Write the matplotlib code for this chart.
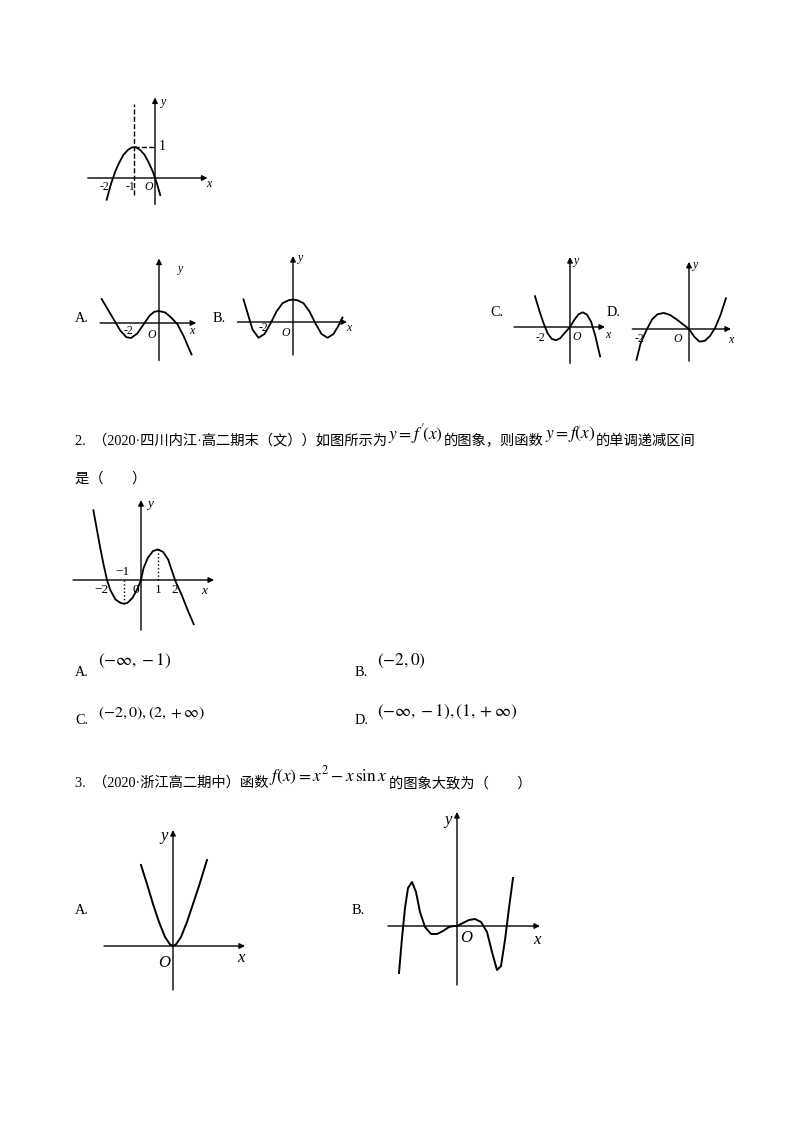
import matplotlib
matplotlib.use('Agg')
import matplotlib.pyplot as plt

plt.rcParams['mathtext.fontset'] = 'stix'
W, H = 800, 1132
CJK = ['Liberation Serif', 'Noto Sans CJK SC', 'DejaVu Sans']

# ---- curve data (math units) ----
g0_x = [-2.3, -2.1, -1.9, -1.7, -1.5, -1.3, -1.1, -0.9, -0.7, -0.5, -0.3, -0.1, 0.1, 0.25]
g0_y = [-0.7, -0.2, 0.2, 0.5, 0.75, 0.9, 0.99, 0.99, 0.9, 0.75, 0.5, 0.2, -0.2, -0.55]

a_x = [-3.7, -3.3, -2.9, -2.5, -2.1, -1.8, -1.4, -1.0, -0.6, -0.3, 0, 0.4, 0.8, 1.2, 1.6, 2.1]
a_y = [1.6, 0.9, 0.2, -0.5, -0.95, -1.0, -0.7, -0.1, 0.5, 0.75, 0.8, 0.7, 0.35, -0.1, -0.9, -2.1]

b_x = [-3.3, -3.0, -2.7, -2.3, -1.9, -1.5, -1.1, -0.7, -0.3, 0, 0.3, 0.7, 1.1, 1.5, 1.9, 2.3, 2.7, 3.0, 3.3]
b_y = [1.5, 0.5, -0.5, -1.05, -0.8, -0.1, 0.7, 1.25, 1.45, 1.5, 1.45, 1.25, 0.7, -0.1, -0.8, -1.05, -0.8, -0.3, 0.3]

c_x = [-2.5, -2.2, -1.9, -1.6, -1.3, -1.0, -0.7, -0.4, 0, 0.3, 0.6, 0.9, 1.2, 1.5, 1.8, 2.15]
c_y = [2.2, 1.2, 0.3, -0.45, -0.85, -0.95, -0.8, -0.45, 0, 0.5, 0.9, 1.05, 0.9, 0.4, -0.6, -2.1]

d_x = [-2.5, -2.3, -2.0, -1.75, -1.5, -1.2, -0.9, -0.6, -0.3, 0, 0.25, 0.5, 0.75, 1.0, 1.25, 1.5, 1.76]
d_y = [-2.2, -1.0, 0, 0.7, 1.05, 1.15, 1.0, 0.7, 0.35, 0, -0.55, -0.9, -0.85, -0.5, 0.1, 1.0, 2.2]

g2_x = [-2.8, -2.6, -2.4, -2.2, -2.0, -1.8, -1.5, -1.2, -1.0, -0.8, -0.5, -0.2, 0, 0.15, 0.4, 0.7,
        1.0, 1.3, 1.6, 2.0, 2.4, 2.8, 3.1]
g2_y = [4.1, 3.0, 1.9, 0.9, 0, -0.6, -1.15, -1.35, -1.4, -1.35, -1.05, -0.5, 0, 0.7, 1.3, 1.7,
        1.8, 1.65, 1.2, 0, -0.9, -1.9, -2.6]

g3a_x = [-1.6, -1.3, -1.0, -0.7, -0.4, -0.15, 0, 0.15, 0.4, 0.7, 1.0, 1.3, 1.7]
g3a_y = [4.05, 3.1, 2.1, 1.2, 0.45, 0.08, 0, 0.08, 0.45, 1.2, 2.1, 3.0, 4.3]

g3b_x = [-2.9, -2.75, -2.6, -2.45, -2.25, -2.05, -1.85, -1.6, -1.3, -1.0, -0.7, -0.4, -0.15, 0,
         0.3, 0.6, 0.9, 1.2, 1.5, 1.75, 2.0, 2.2, 2.4, 2.6, 2.8]
g3b_y = [-2.35, -0.6, 0.9, 1.9, 2.2, 1.7, 0.7, -0.05, -0.4, -0.4, -0.25, -0.05, 0, 0,
         0.15, 0.3, 0.35, 0.2, -0.3, -1.3, -2.2, -2.0, -0.7, 0.9, 2.4]

fig = plt.figure(figsize=(8, 11.32), dpi=100)
page = fig.add_axes([0, 0, 1, 1])
page.set_xlim(0, W)
page.set_ylim(H, 0)
page.axis('off')
renderer = fig.canvas.get_renderer()


def write_line(x, y, parts):
    # parts: list of (text, is_math); pieces placed one after another
    for s, is_math in parts:
        if is_math:
            t = page.text(x + 1, y - 7, s, fontsize=12.5, va='center')
        else:
            t = page.text(x, y, s, fontsize=10.3, family=CJK, va='center')
        bb = t.get_window_extent(renderer)
        x += bb.width + (2 if is_math else 0)


def graph(ox, oy, sx, sy, xmin, xmax, ymin, ymax):
    # small coordinate sketch, origin at pixel (ox, oy)
    ax = fig.add_axes([(ox + xmin * sx) / W, 1 - (oy - ymin * sy) / H,
                       (xmax - xmin) * sx / W, (ymax - ymin) * sy / H])
    ax.set_xlim(xmin, xmax)
    ax.set_ylim(ymin, ymax)
    ax.axis('off')
    ap = dict(arrowstyle='-|>', lw=1.0, color='k', mutation_scale=8, shrinkA=0, shrinkB=0)
    ax.annotate('', xy=(xmax, 0), xytext=(xmin, 0), arrowprops=ap)
    ax.annotate('', xy=(0, ymax), xytext=(0, ymin), arrowprops=ap)
    return ax


def lab(ax, x, y, s, size=8.5, style='italic'):
    ax.text(x, y, s, fontsize=size, ha='center', va='center', family='Liberation Serif',
            style=style)


def option(x, y, s):
    page.text(x, y, s, fontsize=10.3, family='Liberation Serif', va='center')


# ---- question 1 figure ----
ax = graph(155, 178, 21, 31, -3.2, 2.5, -0.85, 2.6)
ax.plot(g0_x, g0_y, color='k', lw=1.3)
ax.plot([-1, -1], [-0.55, 2.4], 'k--', lw=1)
ax.plot([-1, 0], [1, 1], 'k--', lw=1)
lab(ax, -2.4, -0.3, '-2', style='normal')
lab(ax, -1.15, -0.3, '-1', style='normal')
lab(ax, -0.3, -0.3, 'O')
lab(ax, 2.55, -0.2, 'x')
lab(ax, 0.4, 2.45, 'y')
lab(ax, 0.35, 1.0, '1', size=10, style='normal')

ax = graph(159, 323, 15.5, 15, -3.8, 2.4, -2.5, 4.3)
ax.plot(a_x, a_y, color='k', lw=1.3)
lab(ax, -2.0, -0.5, '-2', style='normal')
lab(ax, -0.5, -0.8, 'O')
lab(ax, 2.1, -0.5, 'x')
lab(ax, 1.4, 3.6, 'y')
option(75, 318, 'A.')

ax = graph(293, 322, 15, 15, -3.7, 3.6, -2.2, 4.4)
ax.plot(b_x, b_y, color='k', lw=1.3)
lab(ax, -2.0, -0.4, '-2', style='normal')
lab(ax, -0.5, -0.75, 'O')
lab(ax, 3.7, -0.4, 'x')
lab(ax, 0.5, 4.3, 'y')
option(213, 318, 'B.')

ax = graph(570, 327, 14, 14, -4.0, 2.5, -2.6, 5.0)
ax.plot(c_x, c_y, color='k', lw=1.3)
lab(ax, -2.1, -0.8, '-2', style='normal')
lab(ax, 0.45, -0.7, 'O')
lab(ax, 2.7, -0.6, 'x')
lab(ax, 0.5, 4.7, 'y')
option(490, 313, 'C.')

ax = graph(689, 329, 21, 14, -2.7, 2.0, -2.3, 4.8)
ax.plot(d_x, d_y, color='k', lw=1.3)
lab(ax, -2.35, -0.7, '-2', style='normal')
lab(ax, -0.55, -0.7, 'O')
lab(ax, 2.0, -0.8, 'x')
lab(ax, 0.3, 4.6, 'y')
option(607, 313, 'D.')

# ---- question 2 ----
write_line(75, 441, [('2.  （2020·四川内江·高二期末（文））如图所示为', False),
                     (r"$y=f\,'\!\left(x\right)$", True),
                     ('的图象，则函数', False),
                     (r"$y=f\left(x\right)$", True),
                     ('的单调递减区间', False)])
page.text(75, 479, '是（　　）', fontsize=10.3, family=CJK, va='center')

ax = graph(141, 580, 17, 17, -4.0, 4.3, -2.95, 4.7)
ax.plot(g2_x, g2_y, color='k', lw=1.3)
ax.plot([-1, -1], [0, -1.4], 'k:', lw=1)
ax.plot([1, 1], [0, 1.8], 'k:', lw=1)
lab(ax, -1.1, 0.45, '−1', size=9.5, style='normal')
lab(ax, -2.35, -0.6, '−2', size=9.5, style='normal')
lab(ax, -0.3, -0.6, '0', size=9.5, style='normal')
lab(ax, 1.0, -0.6, '1', size=9.5, style='normal')
lab(ax, 2.0, -0.6, '2', size=9.5, style='normal')
lab(ax, 3.7, -0.65, 'x', size=9.5)
lab(ax, 0.55, 4.45, 'y', size=9.5)

option(75, 673, 'A.')
page.text(98, 661, r'$\left(-\infty,-1\right)$', fontsize=12.5, va='center')
option(355, 673, 'B.')
page.text(377, 661, r'$\left(-2,0\right)$', fontsize=12.5, va='center')
option(75, 720, 'C.')
page.text(98, 713, r'$\left(-2,0\right),\left(2,+\infty\right)$', fontsize=11.5, va='center')
option(355, 720, 'D.')
page.text(377, 712, r'$\left(-\infty,-1\right),\left(1,+\infty\right)$', fontsize=12.5, va='center')

# ---- question 3 ----
write_line(75, 783, [('3.  （2020·浙江高二期中）函数', False),
                     (r'$f\left(x\right)=x^{2}-x\,\sin x$', True),
                     ('的图象大致为（　　）', False)])

ax = graph(173, 946, 20, 20, -3.45, 3.6, -2.2, 5.8)
ax.plot(g3a_x, g3a_y, color='k', lw=1.4)
lab(ax, -0.45, -0.85, 'O', size=12)
lab(ax, 3.4, -0.6, 'x', size=12)
lab(ax, -0.45, 5.5, 'y', size=12)
option(75, 910, 'A.')

ax = graph(457, 926, 20, 20, -3.45, 4.15, -2.95, 5.7)
ax.plot(g3b_x, g3b_y, color='k', lw=1.4)
lab(ax, 0.45, -0.6, 'O', size=12)
lab(ax, 4.0, -0.7, 'x', size=12)
lab(ax, -0.45, 5.3, 'y', size=12)
option(352, 910, 'B.')

fig.savefig('out.png', dpi=100)
